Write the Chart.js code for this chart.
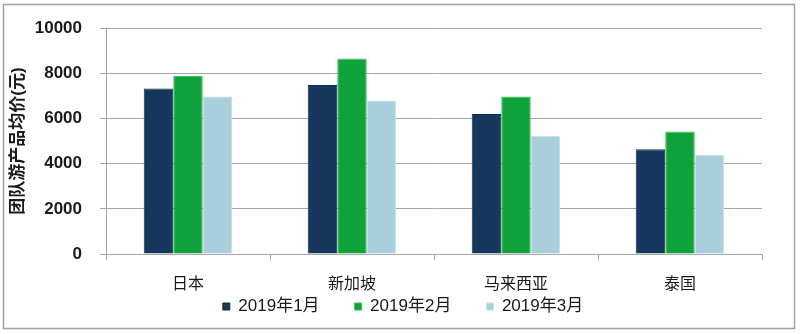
<!DOCTYPE html>
<html>
<head>
<meta charset="utf-8">
<script src="https://cdn.jsdelivr.net/npm/chart.js@4"></script>
<style>
  html, body { margin: 0; padding: 0; background: #fff; }
  #wrap { width: 800px; height: 334px; }
</style>
</head>
<body>
<div id="wrap"><canvas id="chart" width="800" height="334"></canvas></div>
<script>
// --- Datos ---
const countries = ['日本', '新加坡', '马来西亚', '泰国'];
const months = ['2019年1月', '2019年2月', '2019年3月'];
const jan = [7330, 7480, 6200, 4640];
const feb = [7880, 8660, 6970, 5420];
const mar = [6970, 6800, 5240, 4400];
const yTicks = [0, 2000, 4000, 6000, 8000, 10000];

const fillColors = ['#17375e', '#0fa23a', '#a9cfdd'];
const edgeColors = ['#0f2a4a', '#3cc060', '#c4e0ea'];

const FONT = "'Liberation Sans', 'Noto Sans CJK SC', sans-serif";
const TEXT = '#1a1a1a';
const GRID = '#a6a6a6';

// marco exterior del gráfico
const framePlugin = {
  id: 'frame',
  beforeDraw(chart) {
    const ctx = chart.ctx;
    ctx.save();
    ctx.fillStyle = '#fff';
    ctx.fillRect(0, 0, chart.width, chart.height);
    ctx.strokeStyle = '#a0a0a0';
    ctx.lineWidth = 1.5;
    ctx.strokeRect(3.5, 4.5, 791, 324);
    ctx.restore();
  }
};

// el eje x ocupa poco en el layout (la leyenda tiene mucho padding);
// se alarga su caja para que las etiquetas no queden recortadas.
// La leyenda se corre un poco a la derecha.
const layoutTweaks = {
  id: 'layoutTweaks',
  afterLayout(chart) {
    chart.scales.x.bottom += 40;
    chart.legend.left += 18;
    chart.legend.right += 18;
  }
};

const ctx = document.getElementById('chart').getContext('2d');
new Chart(ctx, {
  type: 'bar',
  data: {
    labels: countries,
    datasets: [jan, feb, mar].map((vals, i) => ({
      label: months[i],
      data: vals,
      backgroundColor: fillColors[i],
      borderColor: edgeColors[i],
      borderWidth: 1,
      borderSkipped: 'bottom',
      categoryPercentage: 0.54,
      barPercentage: 1.0
    }))
  },
  options: {
    responsive: false,
    animation: false,
    devicePixelRatio: 1,
    layout: { padding: { left: 8, right: 38, top: 22, bottom: 9 } },
    plugins: {
      legend: {
        position: 'bottom',
        labels: {
          boxWidth: 7,
          boxHeight: 7,
          padding: 35,
          color: TEXT,
          font: { family: FONT, size: 17 }
        }
      },
      tooltip: { enabled: false }
    },
    scales: {
      y: {
        min: yTicks[0],
        max: yTicks[yTicks.length - 1],
        afterFit(scale) { scale.width = 98; },
        afterBuildTicks(scale) { scale.ticks = yTicks.map(v => ({ value: v })); },
        ticks: {
          padding: 18,
          color: TEXT,
          callback: v => String(v),
          font: { family: FONT, size: 17, weight: 'bold' }
        },
        grid: { color: GRID, lineWidth: 1, tickLength: 6 },
        border: { color: GRID },
        title: {
          display: true,
          text: '团队游产品均价(元)',
          color: TEXT,
          padding: { top: 0, bottom: 0 },
          font: { family: FONT, size: 17, weight: 'bold' }
        }
      },
      x: {
        afterFit(scale) { scale.height = 9; },
        ticks: {
          padding: 15,
          color: TEXT,
          font: { family: FONT, size: 16 }
        },
        grid: { offset: true, drawOnChartArea: false, color: GRID, tickLength: 6 },
        border: { color: GRID }
      }
    }
  },
  plugins: [framePlugin, layoutTweaks]
});
</script>
</body>
</html>
